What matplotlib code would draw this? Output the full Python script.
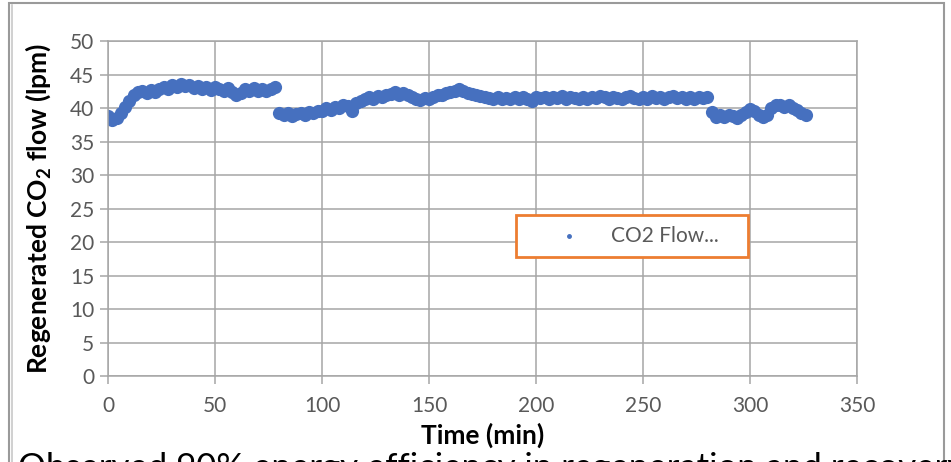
"""
  regenerated CO2 flow vs time, scatter in Excel style
"""

import numpy as np
import matplotlib.pyplot as plt
from matplotlib.patches import Rectangle

plt.rcParams['font.family'] = ['Lato', 'DejaVu Sans']
plt.rcParams['mathtext.fontset'] = 'custom'
plt.rcParams['mathtext.rm'] = 'Lato:bold'
plt.rcParams['mathtext.default'] = 'rm'

time_min = np.arange(0, 327, 2)
co2_flow = [
    38.8, 38.2, 38.5, 39.3, 40.2, 41.0, 41.9, 42.4, 42.6, 42.2,
    42.7, 42.4, 42.9, 43.2, 42.9, 43.4, 43.2, 43.6, 43.3, 43.5,
    43.0, 43.3, 42.8, 43.2, 42.7, 43.1, 42.8, 42.6, 43.0, 42.4,
    41.9, 42.3, 42.8, 42.5, 43.0, 42.6, 42.9, 42.5, 42.9, 43.1,
    39.3, 38.9, 39.2, 38.8, 39.1, 39.3, 39.0, 39.4, 39.2, 39.6,
    39.5, 40.0, 39.7, 40.2, 40.0, 40.5, 40.3, 39.5, 40.8, 41.0,
    41.4, 41.6, 41.3, 41.8, 41.6, 41.9, 42.1, 42.4, 42.0, 42.3,
    41.9, 41.6, 41.4, 41.2, 41.5, 41.4, 41.7, 41.9, 42.0, 42.2,
    42.4, 42.6, 42.8, 42.6, 42.3, 42.1, 41.9, 41.8, 41.6, 41.5,
    41.3, 41.6, 41.4, 41.5, 41.3, 41.6, 41.4, 41.7, 41.3, 41.0,
    41.6, 41.5, 41.7, 41.4, 41.6, 41.5, 41.8, 41.4, 41.6, 41.5,
    41.3, 41.6, 41.4, 41.7, 41.5, 41.8, 41.6, 41.4, 41.7, 41.5,
    41.3, 41.6, 41.8, 41.5, 41.3, 41.6, 41.4, 41.8, 41.5, 41.7,
    41.4, 41.6, 41.8, 41.5, 41.7, 41.4, 41.6, 41.3, 41.7, 41.5,
    41.6, 39.4, 38.7, 39.0, 38.6, 39.0, 38.8, 38.5, 39.0, 39.4,
    39.8, 39.5, 38.9, 38.6, 39.0, 40.0, 40.4, 40.5, 40.2, 40.4,
    40.0, 39.7, 39.3, 38.9,
]

x_ticks = [0, 50, 100, 150, 200, 250, 300, 350]
y_ticks = [0, 5, 10, 15, 20, 25, 30, 35, 40, 45, 50]

blue = '#4670bf'
orange = '#ed7d31'
grey_txt = '#595959'
grid_col = '#a6a6a6'

fig = plt.figure(figsize=(9.51, 4.62), dpi=100)
ax = fig.add_axes([0.1136, 0.186, 0.7876, 0.725])

ax.plot(time_min, co2_flow, 'o', color=blue, markersize=9.5, markeredgewidth=0)

ax.set_xlim(0, 350)
ax.set_ylim(0, 50)
ax.set_xticks(x_ticks)
ax.set_yticks(y_ticks)
ax.grid(True, color=grid_col, linewidth=1.1)
ax.set_axisbelow(True)
for s in ax.spines.values():
    s.set_color(grid_col)
    s.set_linewidth(1.1)
ax.tick_params(axis='both', colors=grid_col, labelcolor=grey_txt, labelsize=15,
               length=6, width=1.1)
ax.tick_params(axis='y', pad=4)
ax.tick_params(axis='x', pad=8)

ax.set_xlabel('Time (min)', fontsize=19, fontweight='bold', labelpad=5)
ax.set_ylabel('Regenerated CO$_2$ flow (lpm)', fontsize=19, fontweight='bold', labelpad=12)

# legend box drawn by hand, like the Excel one
ax.add_patch(Rectangle((0.545, 0.355), 0.31, 0.125, transform=ax.transAxes,
                       facecolor='white', edgecolor=orange, linewidth=2, zorder=5))
ax.plot([0.615], [0.4175], 'o', color=blue, markersize=2.5, transform=ax.transAxes, zorder=6)
ax.text(0.672, 0.4175, 'CO2 Flow...', transform=ax.transAxes, fontsize=15,
        color=grey_txt, va='center', ha='left', zorder=6)

# outer frame of the screenshot
fig.add_artist(Rectangle((9/951, -0.1), 935/951, 1.1 - 3/462, transform=fig.transFigure,
                         fill=False, edgecolor='#9a9a9a', linewidth=1.5))
fig.add_artist(plt.Line2D([12/951, 12/951], [0, 1 - 5/462], transform=fig.transFigure,
                          color='#c8c8c8', linewidth=1.2))

# caption below, cut off by the picture edge
fig.text(18/951, 1 - 452/462, 'Observed 90% energy efficiency in regeneration and recovery with',
         fontsize=25, color='black', va='top', ha='left')

fig.savefig('out.png', dpi=100)
